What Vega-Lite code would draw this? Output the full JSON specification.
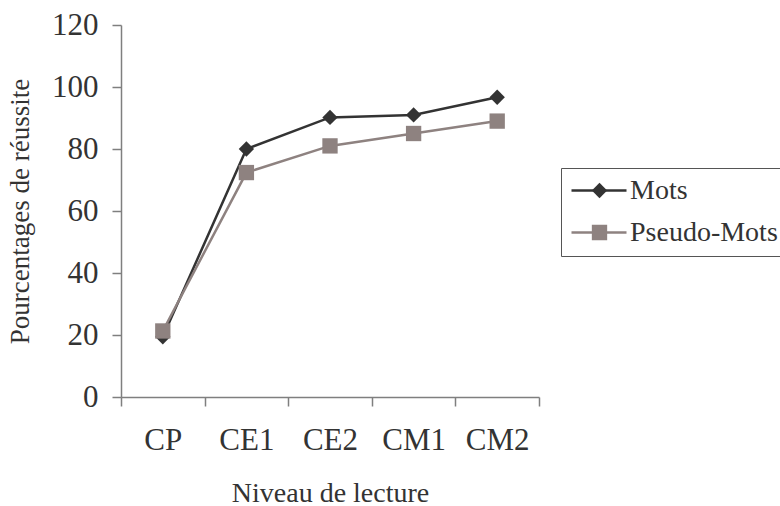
{
  "$schema": "https://vega.github.io/schema/vega-lite/v6.json",
  "width": 418,
  "height": 372,
  "autosize": {"type": "none"},
  "padding": {"left": 121, "top": 25, "right": 241, "bottom": 109},
  "background": "white",
  "config": {"view": {"stroke": null}, "font": "Liberation Serif"},
  "data": {
    "values": [
      {"niveau": "CP", "serie": "Mots", "pourcentage": 19.4},
      {"niveau": "CE1", "serie": "Mots", "pourcentage": 80},
      {"niveau": "CE2", "serie": "Mots", "pourcentage": 90.2},
      {"niveau": "CM1", "serie": "Mots", "pourcentage": 91},
      {"niveau": "CM2", "serie": "Mots", "pourcentage": 96.7},
      {"niveau": "CP", "serie": "Pseudo-Mots", "pourcentage": 21.3},
      {"niveau": "CE1", "serie": "Pseudo-Mots", "pourcentage": 72.4},
      {"niveau": "CE2", "serie": "Pseudo-Mots", "pourcentage": 81},
      {"niveau": "CM1", "serie": "Pseudo-Mots", "pourcentage": 85},
      {"niveau": "CM2", "serie": "Pseudo-Mots", "pourcentage": 89}
    ]
  },
  "layer": [
    {
      "mark": {"type": "line", "strokeWidth": 2.5},
      "encoding": {
        "x": {
          "field": "niveau", "type": "nominal",
          "sort": ["CP", "CE1", "CE2", "CM1", "CM2"],
          "scale": {"type": "band", "paddingInner": 0, "paddingOuter": 0},
          "axis": {
            "title": "Niveau de lecture",
            "titleFont": "Liberation Serif", "titleFontSize": 28, "titleFontWeight": "normal", "titleColor": "#333333", "titlePadding": 24,
            "labelFont": "Liberation Serif", "labelFontSize": 31, "labelColor": "#333333", "labelAngle": 0, "labelPadding": 19,
            "tickBand": "extent", "tickSize": 9, "tickColor": "#7f7f7f", "tickWidth": 1.5,
            "domainColor": "#7f7f7f", "domainWidth": 1.5, "grid": false
          }
        },
        "y": {
          "field": "pourcentage", "type": "quantitative",
          "scale": {"domain": [0, 120], "nice": false},
          "axis": {
            "title": "Pourcentages de réussite",
            "values": [0, 20, 40, 60, 80, 100, 120],
            "titleFont": "Liberation Serif", "titleFontSize": 27, "titleFontWeight": "normal", "titleColor": "#333333", "titlePadding": 17,
            "labelFont": "Liberation Serif", "labelFontSize": 31, "labelColor": "#333333", "labelPadding": 14,
            "tickSize": 9, "tickColor": "#7f7f7f", "tickWidth": 1.5,
            "domainColor": "#7f7f7f", "domainWidth": 1.5, "grid": false
          }
        },
        "stroke": {
          "field": "serie", "type": "nominal",
          "scale": {"domain": ["Mots", "Pseudo-Mots"], "range": ["#333333", "#8e8280"]},
          "legend": {
            "orient": "none", "legendX": 440, "legendY": 143,
            "title": null, "direction": "vertical",
            "strokeColor": "#555555", "fillColor": "white", "padding": 9,
            "symbolType": "M-1,0H1", "symbolSize": 3025, "symbolStrokeWidth": 2.5,
            "clipHeight": 27,
            "labelFont": "Liberation Serif", "labelFontSize": 28, "labelColor": "#333333",
            "labelOffset": 2, "rowPadding": 13, "labelLimit": 400
          }
        }
      }
    },
    {
      "mark": {"type": "point", "filled": true, "size": 235, "opacity": 1},
      "encoding": {
        "x": {"field": "niveau", "type": "nominal", "sort": ["CP", "CE1", "CE2", "CM1", "CM2"]},
        "y": {"field": "pourcentage", "type": "quantitative"},
        "shape": {
          "field": "serie", "type": "nominal",
          "scale": {"range": ["diamond", "square"]},
          "legend": {
            "orient": "none", "legendX": 455.5, "legendY": 143,
            "title": null, "direction": "vertical",
            "strokeColor": "transparent", "fillColor": "transparent", "padding": 9,
            "symbolSize": 235, "symbolStrokeWidth": 0, "clipHeight": 27,
            "labelFont": "Liberation Serif", "labelFontSize": 28, "labelExpr": "''",
            "labelOffset": 2, "rowPadding": 13
          }
        },
        "fill": {
          "field": "serie", "type": "nominal",
          "scale": {"range": ["#333333", "#8e8280"]},
          "legend": {
            "orient": "none", "legendX": 455.5, "legendY": 143,
            "title": null, "direction": "vertical",
            "strokeColor": "transparent", "fillColor": "transparent", "padding": 9,
            "symbolSize": 235, "symbolStrokeWidth": 0, "clipHeight": 27,
            "labelFont": "Liberation Serif", "labelFontSize": 28, "labelExpr": "''",
            "labelOffset": 2, "rowPadding": 13
          }
        }
      }
    }
  ]
}
